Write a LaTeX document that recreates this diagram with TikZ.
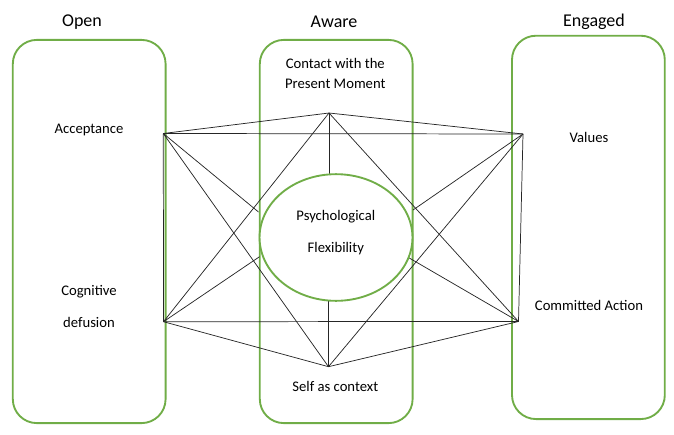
\documentclass[tikz,border=0pt]{standalone}
\usepackage{fontspec}
\setmainfont{Carlito}
\usetikzlibrary{shapes.geometric}
\definecolor{actgreen}{RGB}{112,173,71}
\tikzset{
  pillar/.style={draw=actgreen, line width=1.4pt, rounded corners=18pt,
    minimum width=114.6pt, minimum height=287.4pt, inner sep=0pt},
  heading/.style={font=\fontsize{13.5}{16}\selectfont, inner sep=0pt},
  process/.style={font=\fontsize{11}{15}\selectfont, align=center, inner sep=0pt},
  link/.style={draw=black!85, line width=0.55pt}
}
\begin{document}
\begin{tikzpicture}[x=0.75pt,y=-0.75pt]
   \useasboundingbox (0,0) rectangle (674,435);
   \node[pillar] (open) at (89.2,231.5) {};
    \node[pillar] (aware) at (336.2,231.5) {};
    \node[pillar, minimum height=287.5pt] (engaged) at (588.4,227.4) {};
    \node[heading] (topen) at (82,22) {Open};
    \node[heading] (taware) at (334,22) {Aware};
    \node[heading] (tengaged) at (594,22) {Engaged};

    \node[process] (tacc) at (89,130) {Acceptance};
    \node[process] (tcont) at (335.3,73.5) {Contact with the\\Present Moment};
    \node[process] (tval) at (589,137.3) {Values};
    \node[process, font=\fontsize{11}{24}\selectfont] (tdefu) at (89,306) {Cognitive\\defusion};
    \node[process] (tcomm) at (589,305) {Committed Action};
    \node[process] (tself) at (335.3,386.7) {Self as context};

    \coordinate (acc) at (163.3,133.5);
    \coordinate (cont) at (329,113);
    \coordinate (val) at (523,134);
    \coordinate (defu) at (163.5,321.7);
    \coordinate (comm) at (518.5,321.5);
    \coordinate (self) at (328.5,366.7);

    \coordinate (facc) at (258.5,212);
    \coordinate (fdefu) at (259.5,256.7);
    \coordinate (fval) at (413,210);
    \coordinate (fcomm) at (407,256.7);
    \coordinate (fcont) at (329,174);
    \coordinate (fself) at (328.5,301);

    \path [link] (acc) edge (cont);
    \path [link] (cont) edge (val);
    \path [link] (acc) edge (val);
    \path [link] (acc) edge (defu);
    \path [link] (val) edge (comm);
    \path [link] (defu) edge (comm);
    \path [link] (defu) edge (self);
    \path [link] (self) edge (comm);
    \path [link] (acc) edge (self);
    \path [link] (cont) edge (defu);
    \path [link] (cont) edge (comm);
    \path [link] (val) edge (self);
    \path [link] (cont) edge (fcont);
    \path [link] (self) edge (fself);
    \path [link] (acc) edge (facc);
    \path [link] (defu) edge (fdefu);
    \path [link] (val) edge (fval);
    \path [link] (comm) edge (fcomm);

    \node[shape=ellipse, draw=actgreen, line width=1.4pt, fill=white,
      minimum width=114.7pt, minimum height=95pt, inner sep=0pt] (flex) at (336,237.5) {};
    \node[process, font=\fontsize{11}{24}\selectfont] (tflex) at (335.8,232.5) {Psychological\\Flexibility};
\end{tikzpicture}
\end{document}
